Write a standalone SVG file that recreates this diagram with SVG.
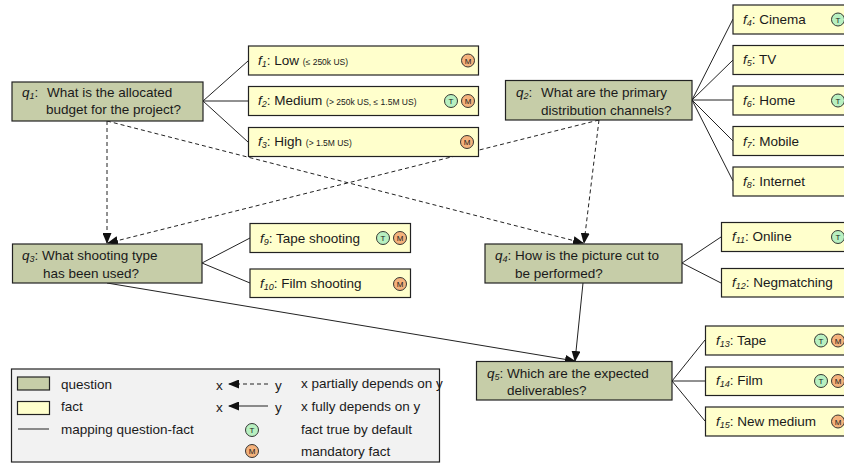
<svg xmlns="http://www.w3.org/2000/svg" width="844" height="464" viewBox="0 0 844 464">
<style>
text{font-family:"Liberation Sans",Arial,sans-serif;font-size:13.5px;fill:#1a1a1a}
.q{fill:#c6cda8;stroke:#222;stroke-width:1.2}
.f{fill:#ffffcc;stroke:#222;stroke-width:1.2}
.i{font-style:italic}
.sub{font-style:italic;font-size:9px}
.s{font-size:8.5px}
.c{fill:none;stroke:#222;stroke-width:1}
.d{fill:none;stroke:#222;stroke-width:1;stroke-dasharray:4 3}
.t circle{fill:#b8f0c0;stroke:#222;stroke-width:.9}
.m circle{fill:#f4b27c;stroke:#222;stroke-width:.9}
.b text{font-size:8px;text-anchor:middle}
</style>
<defs>
<marker id="a" markerWidth="11" markerHeight="9" refX="10" refY="4.5" orient="auto" markerUnits="userSpaceOnUse"><path d="M0 0L11 4.5L0 9z" fill="#111"/></marker>
<g id="T" class="t b"><circle r="6.5"/><text y="3">T</text></g>
<g id="M" class="m b"><circle r="6.5"/><text y="3">M</text></g>
</defs>
<g id="connectors">
<path class="c" d="M203 101L248 61M203 101H248M203 101L248 142M692 100L733 19M692 100L733 60M692 100H733M692 100L733 141M692 100L733 181M202 263L250 238M202 263L250 283M682 263L721 237M682 263L721 283M672 381L705 340M672 381H705M672 381L705 421"/>
<path class="d" marker-end="url(#a)" d="M107 121L107 243"/>
<path class="d" marker-end="url(#a)" d="M107 121L583 243"/>
<path class="d" marker-end="url(#a)" d="M599 120L108 243"/>
<path class="d" marker-end="url(#a)" d="M599 120L584 243"/>
<path class="c" marker-end="url(#a)" d="M107 283L575 361"/>
<path class="c" marker-end="url(#a)" d="M583 283L575 361"/>
</g>
<g id="q1"><rect class="q" x="12" y="82" width="191" height="39"/><text x="22" y="97"><tspan class="i">q</tspan><tspan class="sub" dy="2">1</tspan><tspan dy="-2">:</tspan></text><text x="47" y="97">What is the allocated</text><text x="46" y="114">budget for the project?</text></g>
<g id="f1"><rect class="f" x="248.500" y="46" width="230" height="29"/><text x="258" y="65"><tspan class="i">f</tspan><tspan class="sub" dy="2">1</tspan><tspan dy="-2">: Low </tspan><tspan class="s">(≤ 250k US)</tspan></text><use href="#M" x="468" y="60.500"/></g>
<g id="f2"><rect class="f" x="248.500" y="86.500" width="230" height="29"/><text x="258" y="105"><tspan class="i">f</tspan><tspan class="sub" dy="2">2</tspan><tspan dy="-2">: Medium </tspan><tspan class="s">(&gt; 250k US, ≤ 1.5M US)</tspan></text><use href="#T" x="451" y="101"/><use href="#M" x="468" y="101"/></g>
<g id="f3"><rect class="f" x="248.500" y="127.500" width="230" height="29"/><text x="258" y="146"><tspan class="i">f</tspan><tspan class="sub" dy="2">3</tspan><tspan dy="-2">: High </tspan><tspan class="s">(&gt; 1.5M US)</tspan></text><use href="#M" x="467" y="142"/></g>
<g id="q2"><rect class="q" x="505.500" y="80.500" width="186.500" height="39.500"/><text x="516" y="97"><tspan class="i">q</tspan><tspan class="sub" dy="2">2</tspan><tspan dy="-2">:</tspan></text><text x="541" y="97">What are the primary</text><text x="541" y="115">distribution channels?</text></g>
<g id="f4"><rect class="f" x="733" y="5" width="120" height="29"/><text x="743" y="24"><tspan class="i">f</tspan><tspan class="sub" dy="2">4</tspan><tspan dy="-2">: Cinema</tspan></text><use href="#T" x="838" y="19.500"/></g>
<g id="f5"><rect class="f" x="733" y="45.500" width="120" height="29"/><text x="743" y="64"><tspan class="i">f</tspan><tspan class="sub" dy="2">5</tspan><tspan dy="-2">: TV</tspan></text></g>
<g id="f6"><rect class="f" x="733" y="86" width="120" height="29"/><text x="743" y="105"><tspan class="i">f</tspan><tspan class="sub" dy="2">6</tspan><tspan dy="-2">: Home</tspan></text><use href="#T" x="838" y="100.500"/></g>
<g id="f7"><rect class="f" x="733" y="126.500" width="120" height="29"/><text x="743" y="146"><tspan class="i">f</tspan><tspan class="sub" dy="2">7</tspan><tspan dy="-2">: Mobile</tspan></text></g>
<g id="f8"><rect class="f" x="733" y="167" width="120" height="29"/><text x="743" y="186"><tspan class="i">f</tspan><tspan class="sub" dy="2">8</tspan><tspan dy="-2">: Internet</tspan></text></g>
<g id="q3"><rect class="q" x="12.500" y="244" width="189.500" height="39"/><text x="22" y="260"><tspan class="i">q</tspan><tspan class="sub" dy="2">3</tspan><tspan dy="-2">: What shooting type</tspan></text><text x="43" y="278">has been used?</text></g>
<g id="f9"><rect class="f" x="250" y="223.500" width="160.500" height="29"/><text x="260" y="243"><tspan class="i">f</tspan><tspan class="sub" dy="2">9</tspan><tspan dy="-2">: Tape shooting</tspan></text><use href="#T" x="383" y="238"/><use href="#M" x="400" y="238"/></g>
<g id="f10"><rect class="f" x="250" y="269" width="160.500" height="28.500"/><text x="260" y="288"><tspan class="i">f</tspan><tspan class="sub" dy="2">10</tspan><tspan dy="-2">: Film shooting</tspan></text><use href="#M" x="400" y="284"/></g>
<g id="q4"><rect class="q" x="485" y="244" width="197" height="39"/><text x="495" y="260"><tspan class="i">q</tspan><tspan class="sub" dy="2">4</tspan><tspan dy="-2">: How is the picture cut to</tspan></text><text x="515" y="278">be performed?</text></g>
<g id="f11"><rect class="f" x="721.500" y="222.500" width="130" height="29"/><text x="732" y="241"><tspan class="i">f</tspan><tspan class="sub" dy="2">11</tspan><tspan dy="-2">: Online</tspan></text><use href="#T" x="838" y="237"/></g>
<g id="f12"><rect class="f" x="721.500" y="268.500" width="130" height="28.500"/><text x="732" y="287"><tspan class="i">f</tspan><tspan class="sub" dy="2">12</tspan><tspan dy="-2">: Negmatching</tspan></text></g>
<g id="q5"><rect class="q" x="476.500" y="361.500" width="195.500" height="38.500"/><text x="487" y="378"><tspan class="i">q</tspan><tspan class="sub" dy="2">5</tspan><tspan dy="-2">: Which are the expected</tspan></text><text x="507" y="395">deliverables?</text></g>
<g id="f13"><rect class="f" x="705.500" y="326" width="145" height="29"/><text x="716" y="345"><tspan class="i">f</tspan><tspan class="sub" dy="2">13</tspan><tspan dy="-2">: Tape</tspan></text><use href="#T" x="821" y="340.500"/><use href="#M" x="838" y="340.500"/></g>
<g id="f14"><rect class="f" x="705.500" y="367" width="145" height="28.500"/><text x="716" y="385"><tspan class="i">f</tspan><tspan class="sub" dy="2">14</tspan><tspan dy="-2">: Film</tspan></text><use href="#T" x="821" y="381"/><use href="#M" x="838" y="381"/></g>
<g id="f15"><rect class="f" x="705.500" y="407" width="145" height="29"/><text x="716" y="426"><tspan class="i">f</tspan><tspan class="sub" dy="2">15</tspan><tspan dy="-2">: New medium</tspan></text><use href="#M" x="838" y="421.500"/></g>
<g id="legend"><rect x="11.500" y="369" width="428" height="93" fill="#f2f2f2" stroke="#222" stroke-width="1.2"/>
<rect class="q" x="17.500" y="377" width="32" height="13"/><text x="61" y="389">question</text>
<rect class="f" x="17.500" y="401.500" width="32" height="13"/><text x="61" y="411">fact</text>
<path class="c" d="M18 429H49"/><text x="61" y="434">mapping question-fact</text>
<text x="216" y="390">x</text><path class="d" marker-end="url(#a)" d="M268 384H229"/><text x="275" y="390">y</text>
<text x="216" y="412">x</text><path class="c" marker-end="url(#a)" d="M268 406H229"/><text x="275" y="412">y</text>
<text x="301" y="388">x partially depends on y</text><text x="301" y="411">x fully depends on y</text><text x="301" y="434">fact true by default</text><text x="301" y="456">mandatory fact</text>
<use href="#T" x="252" y="430"/><use href="#M" x="252" y="451"/></g>
</svg>
